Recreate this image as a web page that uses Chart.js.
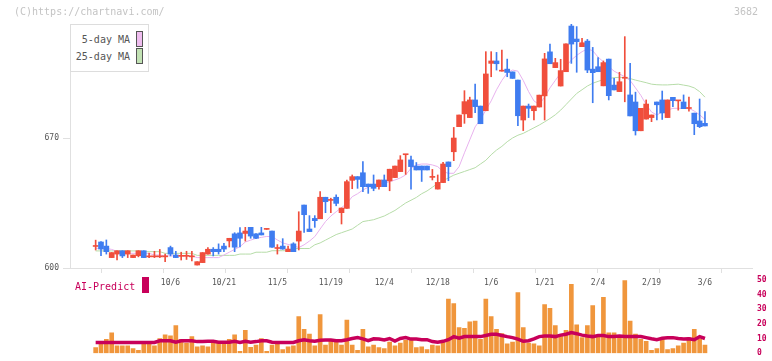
<!DOCTYPE html>
<html>
<head>
<meta charset="utf-8">
<script src="https://cdn.jsdelivr.net/npm/chart.js@4.4.1/dist/chart.umd.min.js"></script>
<style>
    html, body { margin: 0; padding: 0; background: #fff; overflow: hidden; }
    #wrap { position: relative; width: 772px; height: 361px; font-family: 'DejaVu Sans Mono', monospace; }
    canvas { position: absolute; left: 0; }
    #main { top: 0; }
    #vol { top: 270px; }
    .txt { position: absolute; white-space: nowrap; font-size: 10px; line-height: 12px; }
    .copy { left: 14px; top: 6px; color: #c4c4c4; }
    .code { left: 734px; top: 6px; color: #c4c4c4; }
    .legend { position: absolute; left: 70px; top: 24px; width: 77px; height: 46px; border: 1px solid #ddd; background: #fff; }
    .legend .row { position: absolute; right: 18px; color: #555; font-size: 10px; line-height: 12px; }
    .legend .sw { position: absolute; left: 65px; width: 5px; height: 14px; border: 1px solid #555; }
    .ai { left: 75px; top: 281px; color: #c8005a; font-size: 10px; }
    .aibox { position: absolute; left: 142px; top: 277px; width: 7px; height: 16px; background: #c8005a; }
</style>
</head>
<body>
<div id="wrap">
    <canvas id="main" width="772" height="300"></canvas>
    <canvas id="vol" width="772" height="93"></canvas>
    <div class="txt copy">(C)https://chartnavi.com/</div>
    <div class="txt code">3682</div>
    <div class="legend">
        <div class="row" style="top:9px">5-day MA</div>
        <div class="sw" style="top:6px;background:#efbdef"></div>
        <div class="row" style="top:26px">25-day MA</div>
        <div class="sw" style="top:23px;background:#c2e2b4"></div>
    </div>
    <div class="txt ai">AI-Predict</div>
    <div class="aibox"></div>
</div>
<script>
// daily candles, oldest first
const opens = [611.6, 614, 611.8, 605.6, 607.5, 609.3, 607.5, 605.6, 606.6, 609.3,
    606.0, 606.0, 606.0, 606.0, 611.0, 607.0, 606.3, 606.3, 606.0, 601.6,
    602.9, 607.5, 610.1, 610.1, 611.8, 614.6, 618.4, 618.9, 618.6, 621.9,
    618.4, 618.9, 620.8, 619.9, 610.5, 611.8, 608.8, 613.0, 614.5, 633.9,
    621.0, 626.7, 626.5, 638.1, 636.4, 638.1, 629.8, 632.1, 647.2, 649.2,
    651.3, 645.2, 645.2, 643.8, 647.4, 646.9, 648.7, 651.9, 661.0, 658.2,
    654.9, 654.9, 654.9, 648.8, 642.5, 646.0, 657.1, 662.6, 676.1, 683.0,
    681.0, 690.5, 687.2, 684.7, 710.2, 711.5, 706.0, 707.1, 705.6, 701.2,
    679.7, 687.2, 684.7, 686.7, 692.7, 716.4, 707.9, 698.0, 705.7, 730.3,
    723.3, 719.2, 722.2, 707.1, 708.4, 698.1, 712.5, 698.5, 695.0, 702.2,
    693.2, 689.4, 673.9, 680.2, 681.0, 689.4, 690.5, 681.0, 691.9, 690.0,
    689.4, 685.9, 683.4, 679.2, 677.9];
const highs = [615.0, 614.2, 615.1, 608.3, 609.3, 609.3, 609.3, 607.0, 609.3, 609.3,
    608.0, 609.0, 610.0, 607.5, 611.8, 609.0, 608.5, 609.0, 609.0, 603.4,
    608.3, 611.0, 611.0, 613.0, 613.3, 616.0, 619.0, 621.8, 621.9, 621.9,
    618.6, 621.9, 621.0, 619.9, 612.6, 615.8, 611.8, 613.6, 630.3, 633.9,
    628.2, 628.2, 641.1, 638.1, 637.6, 639.4, 632.3, 647.4, 650.1, 649.2,
    657.3, 645.2, 650.1, 647.4, 650.1, 653.2, 654.9, 660.5, 661.2, 660.3,
    656.8, 654.9, 654.9, 653.1, 650.1, 656.9, 657.1, 675.7, 682.4, 695.5,
    692.0, 699.1, 687.2, 716.5, 716.5, 716.1, 717.4, 712.5, 705.6, 701.2,
    687.2, 688.3, 687.2, 693.1, 715.6, 720.6, 712.9, 712.4, 720.7, 731.4,
    730.0, 723.7, 723.1, 718.8, 713.3, 711.5, 712.5, 702.1, 705.4, 724.6,
    710.2, 694.7, 686.0, 690.5, 682.4, 689.4, 695.3, 690.5, 691.9, 690.2,
    693.2, 692.1, 683.4, 691.0, 684.2];
const lows = [609.7, 606.6, 607.5, 605.6, 604.3, 605.6, 605.6, 605.6, 606.0, 605.6,
    605.6, 605.6, 605.6, 603.4, 606.5, 605.6, 604.3, 604.6, 603.8, 601.6,
    602.9, 607.5, 606.5, 607.5, 608.8, 611.3, 608.8, 611.4, 614.5, 616.0,
    615.8, 617.8, 620.8, 611.1, 607.5, 610.1, 608.8, 608.8, 609.7, 619.2,
    619.6, 621.9, 626.5, 629.8, 629.8, 633.5, 623.7, 632.1, 642.7, 642.9,
    641.1, 640.2, 641.6, 642.5, 643.8, 641.6, 648.7, 651.9, 650.4, 642.5,
    652.8, 646.6, 652.8, 647.4, 642.5, 646.0, 647.0, 657.8, 676.1, 677.9,
    681.0, 683.6, 677.7, 684.7, 703.0, 706.6, 706.0, 703.0, 702.1, 676.6,
    674.0, 681.0, 679.7, 686.7, 679.7, 710.0, 707.9, 698.0, 705.7, 710.2,
    705.4, 719.2, 705.2, 689.0, 705.7, 698.1, 690.5, 695.9, 695.0, 689.5,
    681.9, 671.6, 673.9, 680.2, 678.8, 679.7, 680.0, 681.0, 686.9, 685.0,
    685.8, 684.5, 671.8, 675.6, 676.5];
const closes = [611.8, 610.2, 608.8, 608.3, 609.3, 606.5, 609.3, 607.0, 609.3, 605.6,
    606.2, 606.2, 606.2, 606.2, 607.5, 605.6, 606.5, 606.5, 606.2, 603.4,
    608.3, 610.1, 608.8, 608.8, 610.2, 616.0, 611.2, 616.0, 619.9, 617.2,
    616.0, 617.8, 621.0, 611.2, 610.7, 610.2, 610.2, 608.8, 619.9, 628.7,
    619.6, 625.5, 638.1, 635.7, 636.6, 634.8, 632.3, 646.5, 649.2, 647.7,
    643.8, 643.8, 642.9, 647.4, 643.8, 653.2, 654.9, 658.2, 661.2, 654.6,
    652.8, 652.8, 652.8, 649.0, 646.1, 656.0, 654.6, 670.0, 682.4, 689.6,
    690.5, 686.9, 677.7, 704.5, 711.5, 710.0, 706.2, 705.3, 702.1, 682.0,
    687.2, 686.0, 687.2, 693.1, 712.6, 710.0, 710.6, 706.3, 720.7, 720.6,
    721.9, 721.3, 706.6, 705.2, 705.7, 710.6, 692.8, 695.9, 700.3, 702.4,
    681.9, 673.9, 686.0, 688.3, 682.4, 687.9, 683.5, 690.5, 690.1, 690.2,
    685.8, 686.1, 677.7, 676.1, 676.5];
const ma5 = [610.6, 610.6, 610.6, 610.0, 609.0, 607.9, 607.9, 607.9, 607.9, 607.9,
    607.9, 607.0, 607.0, 606.5, 606.5, 606.5, 606.5, 606.5, 606.5, 605.6,
    605.6, 605.6, 605.6, 605.6, 607.0, 608.5, 610.0, 611.5, 614.0, 615.0,
    616.0, 616.5, 617.0, 616.9, 615.1, 613.5, 612.7, 612.0, 611.0, 612.5,
    614.5, 616.9, 621.0, 625.0, 628.0, 630.3, 632.5, 634.8, 638.4, 640.0,
    642.0, 643.5, 644.7, 645.2, 645.6, 646.5, 647.4, 648.5, 650.1, 653.7,
    655.5, 656.0, 656.0, 655.5, 654.6, 651.9, 651.0, 651.0, 654.6, 662.0,
    669.0, 676.0, 680.0, 685.0, 690.0, 696.0, 701.0, 705.0, 706.6, 706.0,
    701.0, 695.0, 690.0, 688.0, 692.0, 697.0, 701.0, 705.0, 708.5, 712.0,
    714.5, 716.5, 718.0, 717.0, 713.6, 711.0, 708.5, 706.0, 704.5, 703.0,
    701.0, 697.0, 693.0, 688.0, 684.0, 682.4, 684.0, 685.0, 686.0, 686.0,
    686.0, 686.0, 684.5, 682.5, 680.0];
const ma25 = [609.2, 609.2, 609.2, 609.2, 609.2, 609.2, 609.2, 609.2, 609.2, 608.8,
    608.8, 608.8, 608.8, 607.9, 607.9, 607.9, 607.9, 607.9, 607.9, 606.8,
    606.8, 606.8, 606.8, 606.8, 606.8, 606.8, 606.8, 607.5, 607.5, 607.5,
    608.5, 608.5, 608.5, 609.3, 609.3, 609.3, 609.3, 610.5, 610.5, 610.5,
    610.5, 612.5, 613.5, 615.0, 616.5, 618.0, 619.0, 620.0, 621.0, 623.0,
    625.0, 625.5, 626.0, 627.0, 628.0, 629.5, 631.0, 633.0, 635.0, 636.5,
    638.0, 640.0, 641.5, 643.5, 645.5, 647.0, 648.5, 650.0, 651.0, 652.0,
    653.0, 654.0, 656.0, 658.0, 661.0, 663.5, 665.5, 668.0, 670.0, 671.5,
    672.5, 674.0, 675.5, 677.0, 678.7, 680.5, 682.5, 685.0, 688.0, 691.0,
    694.0, 696.0, 698.0, 699.5, 700.5, 701.5, 702.0, 702.5, 702.7, 702.5,
    702.0, 701.2, 700.5, 699.8, 699.0, 698.7, 698.6, 698.6, 698.8, 699.0,
    698.5, 698.0, 697.0, 695.0, 692.0];
const volume = [3.8, 7.1, 9.4, 13.8, 5.0, 5.0, 5.0, 3.1, 1.9, 6.3,
    7.5, 5.0, 10.0, 12.5, 11.9, 18.8, 9.4, 6.9, 11.3, 4.4,
    5.0, 4.4, 8.8, 7.5, 6.3, 9.4, 12.5, 1.3, 15.6, 4.0,
    5.5, 10.0, 1.3, 5.6, 6.9, 2.5, 4.4, 5.0, 25.0, 16.3,
    13.1, 5.0, 26.3, 5.6, 8.8, 8.1, 5.6, 22.5, 5.6, 1.9,
    16.3, 4.4, 5.6, 3.8, 3.1, 7.5, 5.0, 6.9, 8.8, 8.8,
    3.8, 4.4, 2.5, 5.6, 5.0, 7.5, 36.9, 33.8, 17.5, 16.9,
    21.3, 21.9, 9.4, 36.9, 25.0, 16.3, 13.4, 6.3, 7.5, 41.3,
    17.5, 6.9, 6.3, 5.0, 33.1, 30.6, 18.8, 12.5, 15.6, 46.9,
    19.4, 10.6, 18.8, 32.5, 11.9, 38.1, 13.8, 13.8, 11.9, 49.4,
    21.9, 13.1, 9.4, 8.1, 1.9, 3.1, 10.0, 2.5, 3.1, 5.0,
    6.9, 10.6, 16.3, 9.4, 5.6];
const aiPredict = [7.3, 7.3, 7.3, 7.3, 7.3, 7.3, 7.3, 7.3, 7.3, 7.3,
    7.3, 7.3, 8.5, 8.5, 8.5, 7.5, 8.5, 8.5, 8.5, 7.9,
    7.9, 8.1, 8.1, 7.5, 7.5, 7.5, 8.1, 7.3, 8.1, 7.5,
    7.9, 8.5, 8.5, 7.5, 7.3, 7.3, 7.3, 7.3, 8.5, 9.2,
    8.5, 8.1, 8.8, 9.0, 9.0, 8.5, 8.5, 9.2, 10.0, 10.6,
    9.8, 8.5, 9.8, 9.6, 9.0, 10.0, 8.3, 10.0, 10.6, 9.6,
    9.6, 9.2, 9.2, 7.9, 7.5, 8.1, 9.2, 11.3, 10.2, 11.3,
    11.3, 11.3, 11.3, 12.1, 12.9, 12.9, 12.1, 11.3, 10.6, 9.6,
    8.1, 8.5, 9.8, 11.3, 11.7, 11.7, 11.3, 12.3, 12.9, 14.0,
    13.3, 12.3, 11.7, 11.3, 12.1, 12.1, 11.3, 11.3, 11.7, 11.3,
    11.3, 11.3, 11.3, 10.6, 9.8, 9.2, 10.2, 10.6, 10.6, 10.0,
    9.6, 9.8, 9.2, 11.3, 10.0];
const dateLabels = ['10/6', '10/21', '11/5', '11/19', '12/4', '12/18', '1/6', '1/21', '2/4', '2/19', '3/6'];
const dateTickIdx = [14, 24, 34, 44, 54, 64, 74, 84, 94, 104, 114];
const priceTicks = [600, 670];

const UP = '#f04e3c';
const DOWN = '#3f7cf0';
const X_MIN = -4.8;
const X_MAX = 122.8;

Chart.defaults.font.family = "'DejaVu Sans Mono', monospace";
Chart.defaults.font.size = 8;
Chart.defaults.color = '#555';

const candleColors = opens.map((o, i) => closes[i] >= o ? UP : DOWN);

new Chart(document.getElementById('main'), {
    type: 'bar',
    data: {
        datasets: [
            {
                data: opens.map((o, i) => ({ x: i, y: [o, closes[i]] })),
                backgroundColor: candleColors,
                barThickness: 5,
                minBarLength: 1,
                grouped: false,
                order: 0
            },
            {
                data: lows.map((l, i) => ({ x: i, y: [l, highs[i]] })),
                backgroundColor: candleColors,
                barThickness: 1,
                grouped: false,
                order: 1
            },
            {
                type: 'line',
                data: ma5.map((v, i) => ({ x: i, y: v })),
                borderColor: '#e8b2ee',
                borderWidth: 1,
                pointRadius: 0,
                order: 3
            },
            {
                type: 'line',
                data: ma25.map((v, i) => ({ x: i, y: v })),
                borderColor: '#b6dca8',
                borderWidth: 1,
                pointRadius: 0,
                order: 4
            }
        ]
    },
    options: {
        responsive: false,
        animation: false,
        layout: { padding: { top: 24, right: 20, left: 0, bottom: 0 } },
        plugins: { legend: { display: false }, tooltip: { enabled: false } },
        scales: {
            x: {
                type: 'linear', min: X_MIN, max: X_MAX, offset: false, position: 'bottom',
                afterBuildTicks: s => {
                    const ticks = [];
                    for (let k = 0; k <= 11; k++) ticks.push({ value: X_MIN + (X_MAX - X_MIN) * k / 11 });
                    s.ticks = ticks;
                },
                ticks: { display: false },
                grid: { drawOnChartArea: false, tickLength: 5, color: '#e0e0e0' },
                border: { color: '#e0e0e0' },
                afterFit: s => { s.height = 5; }
            },
            xd: {
                type: 'linear', min: X_MIN, max: X_MAX, offset: false, position: 'bottom',
                afterBuildTicks: s => { s.ticks = dateTickIdx.map(v => ({ value: v })); },
                ticks: {
                    callback: v => dateLabels[dateTickIdx.indexOf(v)],
                    padding: 5, maxRotation: 0, autoSkip: false, color: '#555'
                },
                grid: { display: false, drawTicks: false },
                border: { display: false },
                afterFit: s => { s.height = 27; }
            },
            y: {
                min: 600, max: 731.4,
                afterBuildTicks: s => { s.ticks = priceTicks.map(v => ({ value: v })); },
                ticks: { padding: 4, color: '#555' },
                grid: { drawOnChartArea: false, tickLength: 7, color: '#e0e0e0' },
                border: { color: '#e0e0e0' },
                afterFit: s => { s.width = 70; }
            }
        }
    }
});

new Chart(document.getElementById('vol'), {
    type: 'bar',
    data: {
        datasets: [
            {
                type: 'line',
                data: aiPredict.map((v, i) => ({ x: i, y: v })),
                borderColor: '#c8005a',
                borderWidth: 3.5,
                pointRadius: 0,
                order: 0
            },
            {
                data: volume.map((v, i) => ({ x: i, y: v })),
                backgroundColor: '#f0963c',
                barThickness: 4,
                grouped: false,
                order: 1
            }
        ]
    },
    options: {
        responsive: false,
        animation: false,
        layout: { padding: { top: 8, right: 0, left: 70, bottom: 5 } },
        plugins: { legend: { display: false }, tooltip: { enabled: false } },
        scales: {
            x: { type: 'linear', min: X_MIN, max: X_MAX, offset: false, display: false },
            y: {
                position: 'right', min: 0, max: 50,
                ticks: { stepSize: 10, color: '#c8005a', padding: 5, font: { size: 8, weight: 'bold' } },
                grid: { display: false, drawTicks: false },
                border: { display: false },
                afterFit: s => { s.width = 20; }
            }
        }
    }
});
</script>
</body>
</html>
